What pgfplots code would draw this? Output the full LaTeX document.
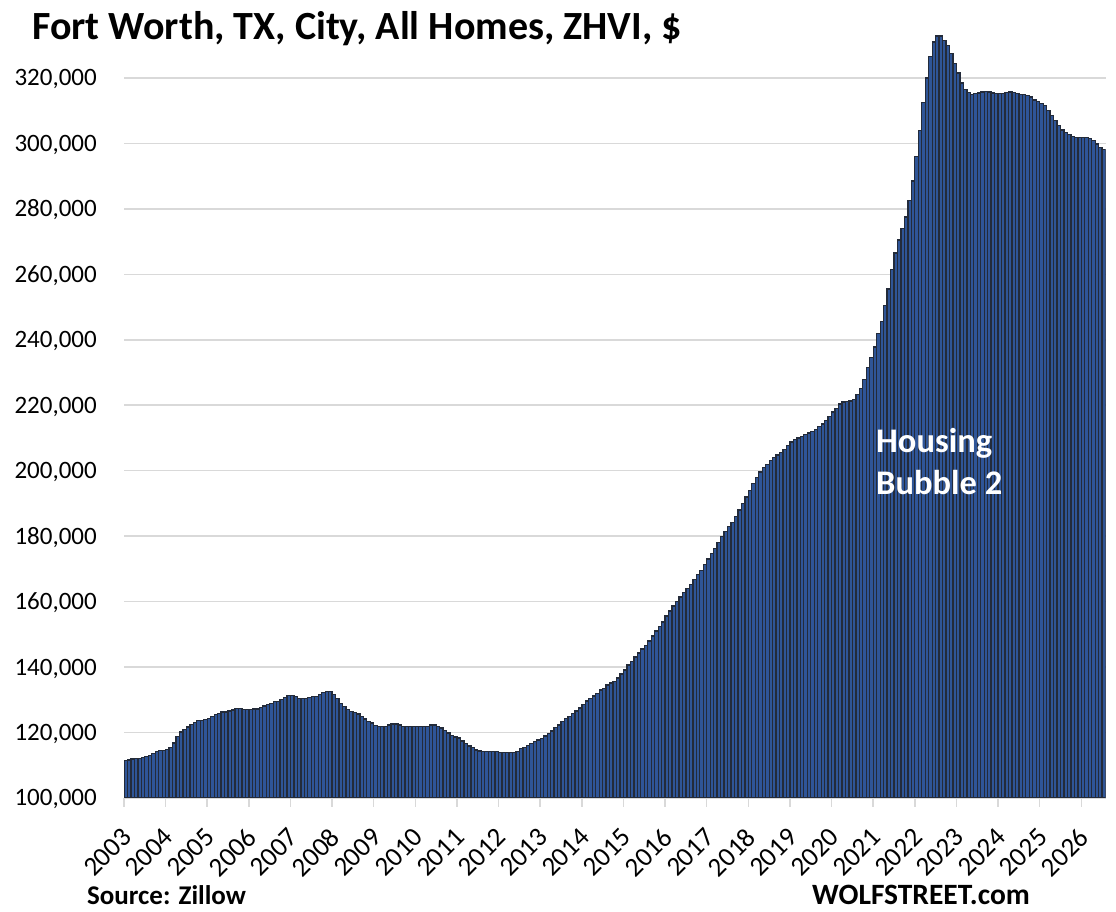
\documentclass[border=0pt]{standalone}
\usepackage{fontspec}
\setmainfont{Carlito}
\usepackage{pgfplots}
\pgfplotsset{compat=1.18}
\usepackage{pgfplotstable}
\definecolor{gridgrey}{HTML}{D9D9D9}
\definecolor{barfill}{HTML}{2F5597}
\definecolor{barline}{HTML}{232B3A}
\pgfplotstableread{
v
111.5
111.6
111.9
112.1
112.1
112.4
112.7
113.0
113.5
114.1
114.5
114.5
114.9
115.4
116.8
118.7
120.2
121.0
121.7
122.4
123.1
123.6
123.6
123.9
124.3
124.9
125.5
125.9
126.3
126.3
126.6
126.9
127.3
127.3
127.0
127.0
127.0
127.2
127.2
127.6
128.1
128.5
128.9
129.4
129.4
130.1
130.7
131.4
131.4
131.0
130.4
130.4
130.4
130.7
131.0
131.0
131.7
132.3
132.6
132.6
131.7
130.5
128.9
127.9
127.1
126.4
126.1
125.7
124.9
124.1
123.4
122.9
122.1
121.9
121.9
121.9
122.3
122.6
122.6
122.3
121.9
121.9
121.9
121.9
121.9
121.9
121.9
121.9
122.3
122.3
121.9
121.4
120.7
119.9
119.2
118.6
118.3
117.4
116.7
115.9
115.5
114.7
114.4
114.1
114.1
114.1
114.1
114.1
113.8
113.8
113.8
113.8
113.8
114.1
115.1
115.5
116.0
116.6
117.3
117.7
118.2
118.9
119.6
120.5
121.5
122.3
123.3
124.2
124.8
125.8
126.6
127.5
128.5
129.6
130.5
131.2
132.0
133.0
133.5
134.5
135.1
135.7
136.7
137.9
139.1
140.6
141.8
143.1
144.3
145.5
146.7
148.0
149.5
151.0
152.3
153.8
155.6
157.1
158.7
160.0
161.4
162.8
164.0
165.3
166.7
168.2
169.6
171.4
173.0
174.7
176.2
178.1
179.8
181.4
183.0
184.2
186.0
188.0
190.0
192.0
194.0
196.0
198.0
199.6
201.0
202.0
203.2
204.0
204.8
205.5
206.4
207.6
208.8
209.6
210.0
210.5
211.0
211.5
211.9
212.6
213.4
214.3
215.4
216.6
217.9
219.1
220.4
221.0
221.2
221.3
221.8
223.2
225.1
227.8
231.5
234.5
237.8
242.0
245.5
250.5
255.5
261.5
266.5
270.5
274.0
277.5
282.5
288.5
296.0
304.0
312.5
320.0
326.5
331.0
332.8
332.8
331.5
330.0
327.5
324.5
321.5
318.5
316.5
315.5
315.0
315.2
315.4
315.7
315.8
315.7
315.4
315.2
315.2
315.2
315.5
315.7
315.5
315.2
315.0
314.9
314.7
314.2
313.3
312.7
312.2
311.5
310.1
308.5
307.0
305.4
304.1
303.4
302.7
302.1
301.8
301.8
301.8
301.8
301.5
300.8
299.8
298.8
298.2
}\zhvi
\begin{document}
\begin{tikzpicture}[x=1pt,y=1pt]
\useasboundingbox (0,0) rectangle (1116,912);
\begin{axis}[
  at={(124pt,114pt)}, anchor=south west,
  scale only axis, width=981.6pt, height=772.4pt,
  xmin=0, xmax=283, ymin=100, ymax=336,
  axis x line*=bottom, axis y line*=left,
  y axis line style={draw=none},
  x axis line style={draw=gridgrey, line width=2pt},
  ytick={100,120,140,160,180,200,220,240,260,280,300,320},
  yticklabels={{100,000},{120,000},{140,000},{160,000},{180,000},{200,000},{220,000},{240,000},{260,000},{280,000},{300,000},{320,000}},
  ytick style={draw=none},
  ymajorgrids, grid style={draw=gridgrey, line width=1.5pt},
  xtick={0,12,24,36,48,60,72,84,96,108,120,132,144,156,168,180,192,204,216,228,240,252,264,276},
  xticklabels={2003,2004,2005,2006,2007,2008,2009,2010,2011,2012,2013,2014,2015,2016,2017,2018,2019,2020,2021,2022,2023,2024,2025,2026},
  xtick align=outside, major tick length=9pt,
  xtick style={draw=gridgrey, line width=1.5pt},
  yticklabel style={font=\fontsize{25}{25}\selectfont, anchor=base east, inner sep=0pt, xshift=-27pt, yshift=-8pt},
  xticklabel style={font=\fontsize{27}{27}\selectfont, inner sep=0pt, yshift=-26pt, xshift=3pt, rotate=45, anchor=east},
  clip=true,
]
\addplot[ybar, bar width=1, fill=barfill, draw=barline, line width=1.3pt] table[x expr=\coordindex+0.5, y=v] {\zhvi};
\end{axis}
\node[anchor=base west, inner sep=0pt, font=\fontsize{40}{40}\selectfont\bfseries] at (32,872) {Fort Worth, TX, City, All Homes, ZHVI, \$};
\node[anchor=base west, inner sep=0pt, font=\fontsize{34.5}{34.5}\selectfont\bfseries, text=white] at (876,459.3) {Housing};
\node[anchor=base west, inner sep=0pt, font=\fontsize{34.5}{34.5}\selectfont\bfseries, text=white] at (876,417) {Bubble 2};
\node[anchor=base west, inner sep=0pt, font=\fontsize{27}{27}\selectfont\bfseries] at (87,7) {Source: Zillow};
\node[anchor=base west, inner sep=0pt, font=\fontsize{29.5}{29.5}\selectfont\bfseries] at (812,7) {WOLFSTREET.com};
\end{tikzpicture}
\end{document}
